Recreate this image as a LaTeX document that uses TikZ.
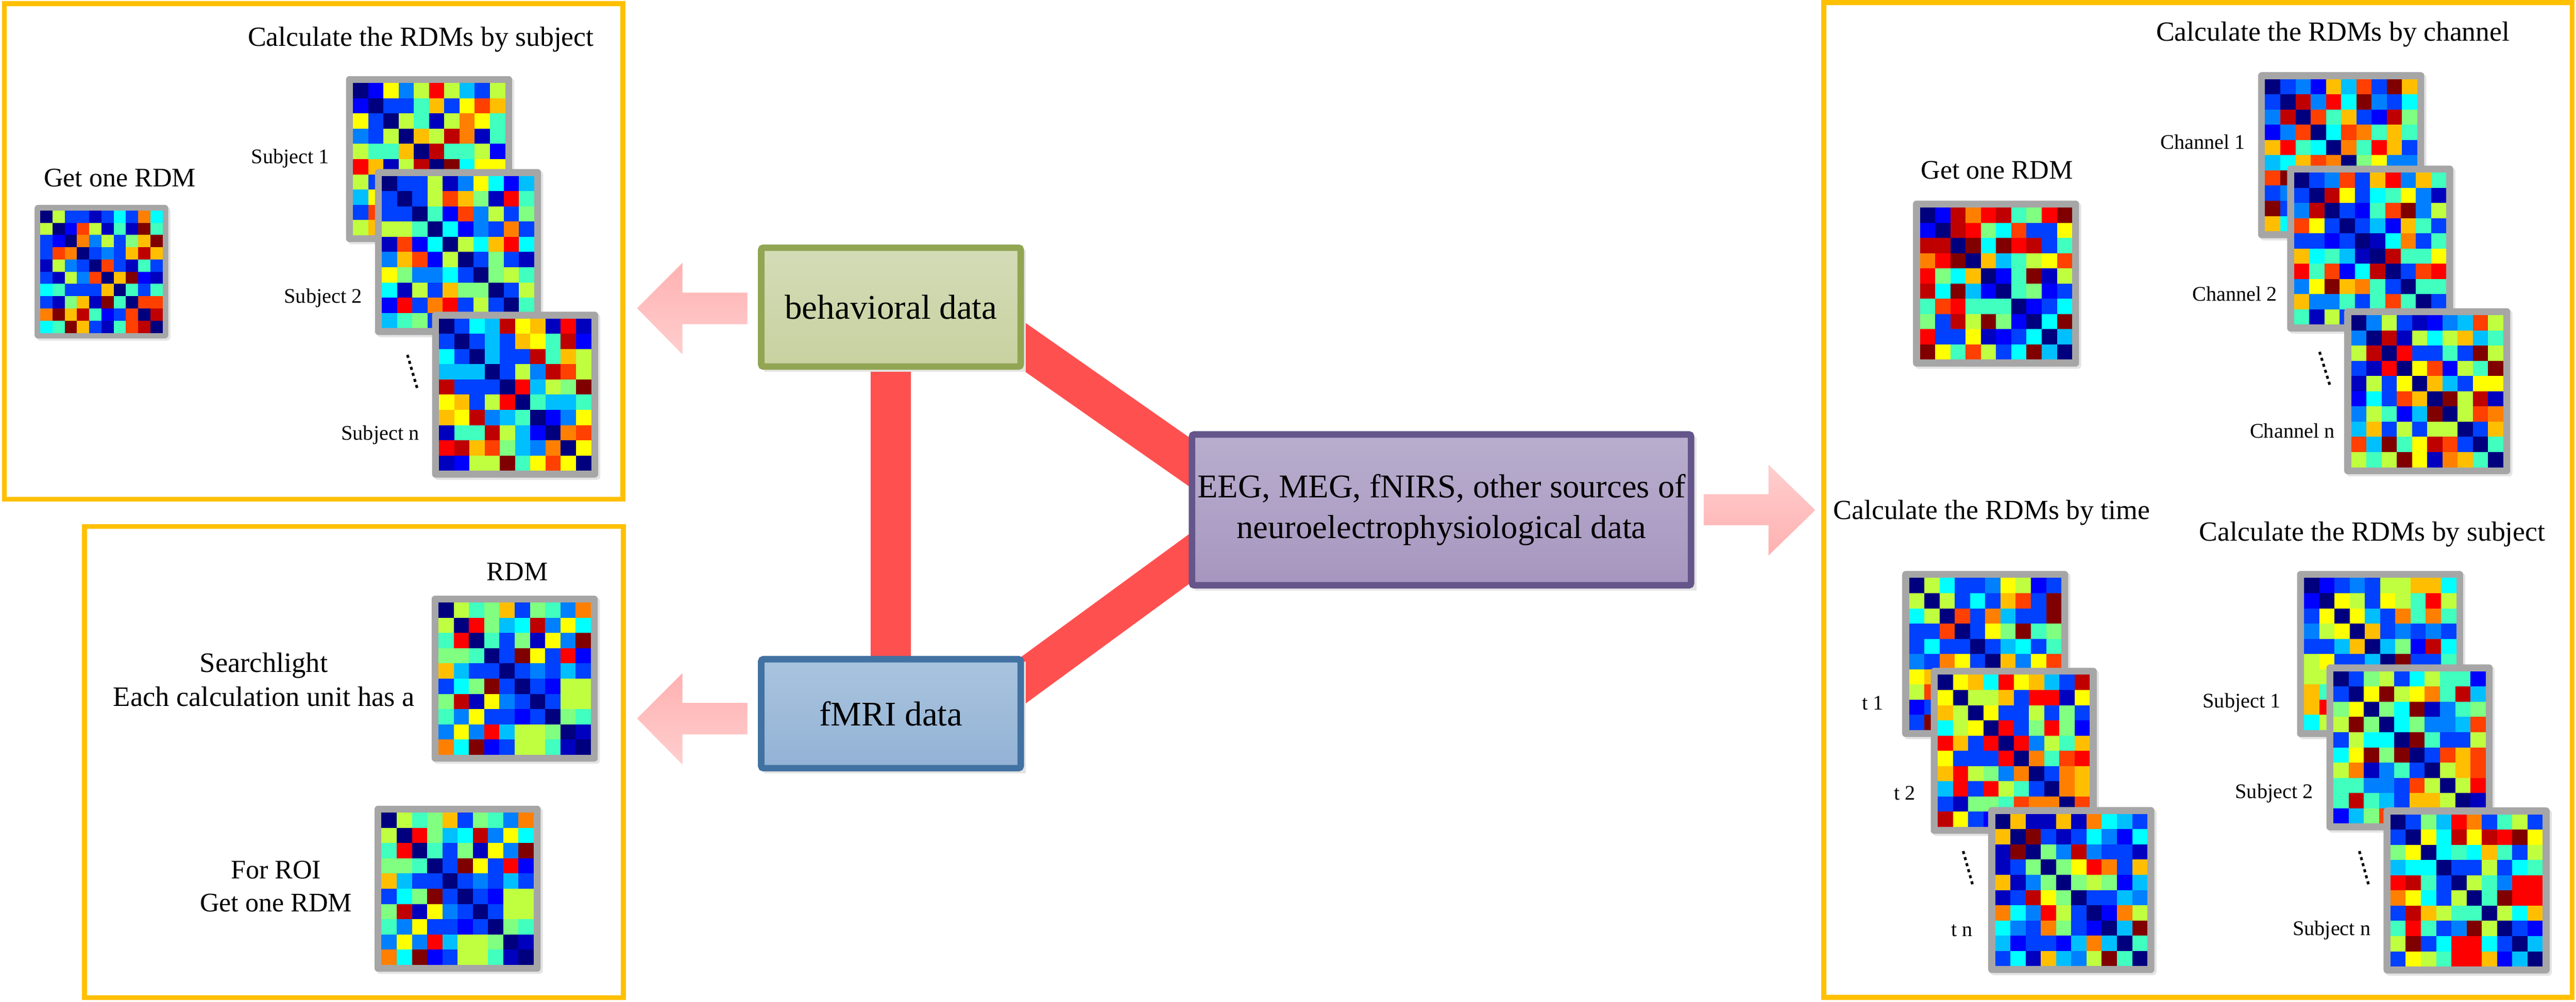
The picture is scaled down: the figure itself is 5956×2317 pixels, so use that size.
\documentclass[tikz,border=0pt]{standalone}
\usepackage{fontspec}
\setmainfont{Liberation Serif}
\usetikzlibrary{calc,backgrounds}

% jet colour map
\definecolor{jet0}{HTML}{00007F}
\definecolor{jet1}{HTML}{0000BF}
\definecolor{jet2}{HTML}{0000FF}
\definecolor{jet3}{HTML}{0040FF}
\definecolor{jet4}{HTML}{0080FF}
\definecolor{jet5}{HTML}{00BFFF}
\definecolor{jet6}{HTML}{00FFFF}
\definecolor{jet7}{HTML}{40FFBF}
\definecolor{jet8}{HTML}{80FF80}
\definecolor{jet9}{HTML}{BFFF40}
\definecolor{jet10}{HTML}{FFFF00}
\definecolor{jet11}{HTML}{FFBF00}
\definecolor{jet12}{HTML}{FF8000}
\definecolor{jet13}{HTML}{FF4000}
\definecolor{jet14}{HTML}{FF0000}
\definecolor{jet15}{HTML}{BF0000}
\definecolor{jet16}{HTML}{800000}

\definecolor{panelY}{HTML}{FFC000}
\definecolor{frameG}{HTML}{A6A6A6}
\definecolor{shadowG}{HTML}{E4E4E4}
\definecolor{bandR}{HTML}{FF5050}
\definecolor{pinkD}{HTML}{FFB1B1}
\definecolor{pinkL}{HTML}{FFCECE}
\definecolor{behB}{HTML}{92A553}
\definecolor{behT}{HTML}{D3DCB7}
\definecolor{behL}{HTML}{C8D19F}
\definecolor{mriB}{HTML}{4272A2}
\definecolor{mriT}{HTML}{A9C4DE}
\definecolor{mriL}{HTML}{93B2D5}
\definecolor{eegB}{HTML}{64558A}
\definecolor{eegT}{HTML}{B9AECE}
\definecolor{eegL}{HTML}{A696BF}

\tikzset{
  panel/.style={draw=panelY, line width=1.15pt},
  rdmframe/.style={fill=frameG, rounded corners=0.8pt, inner sep=0pt, outer sep=0pt},
  rdmshadow/.style={fill=shadowG, rounded corners=0.8pt},
  databox/.style={line width=1.5pt, rounded corners=0.5pt, inner sep=0pt, align=center},
  band/.style={draw=bandR, line width=9.3pt},
  hd/.style={inner sep=0pt, font=\fontsize{6.4}{7.7}\selectfont},
  sub/.style={inner sep=0pt, font=\fontsize{6.2}{7.6}\selectfont, align=center},
  lab/.style={inner sep=0pt, font=\fontsize{4.8}{5.8}\selectfont},
  dotsline/.style={line width=0.6pt, dash pattern=on 0.7pt off 0.75pt},
}

% #1 name, #2 left, #3 top, #4 outer size (px), #5 seed
\newcommand{\rdmmat}[5]{%
  \pgfmathsetseed{#5}%
  \fill[rdmshadow] ({#2+5},{#3+5}) rectangle ++(#4,#4);
  \node[rdmframe, minimum size={#4*0.1pt}, anchor=north west] (#1) at (#2,#3) {};
  \pgfmathsetmacro{\rdmB}{#4/24}%
  \pgfmathsetmacro{\rdmC}{(#4-2*\rdmB)/10}%
  \foreach \i in {0,...,9}{%
    \foreach \j in {\i,...,9}{%
      \ifnum\i=\j\relax
        \fill[jet0] ({#2+\rdmB+\j*\rdmC},{#3+\rdmB+\i*\rdmC}) rectangle ++(\rdmC,\rdmC);
      \else
        \pgfmathrandominteger{\ra}{0}{19}%
        \pgfmathtruncatemacro{\rr}{{1,2,3,3,4,5,6,7,7,8,9,9,10,11,12,13,14,15,16,3}[\ra]}%
        \fill[jet\rr] ({#2+\rdmB+\j*\rdmC},{#3+\rdmB+\i*\rdmC}) rectangle ++(\rdmC,\rdmC);
        \fill[jet\rr] ({#2+\rdmB+\i*\rdmC},{#3+\rdmB+\j*\rdmC}) rectangle ++(\rdmC,\rdmC);
      \fi
    }%
  }%
}

\begin{document}
\begin{tikzpicture}[x=0.1pt, y=-0.1pt]
\useasboundingbox (0,0) rectangle (5956,2317);
\begin{scope}[on background layer]
  \fill[white] (0,0) rectangle (5956,2317);
\end{scope}

% ---------- panels ----------
\draw[panel] (10,8) rectangle (1440,1155);
\draw[panel] (195,1218) rectangle (1441,2308);
\draw[panel] (4217,6) rectangle (5947,2307);

% ---------- central data boxes ----------
\fill[shadowG] (1766,579) rectangle (2372,860);
\node[databox, draw=behB, top color=behT, bottom color=behL,
      minimum width=60pt, minimum height=27.5pt,
      font=\fontsize{8}{9.6}\selectfont] (beh) at (2060,710.5) {behavioral data};
\fill[shadowG] (1766,1531) rectangle (2372,1789);
\node[databox, draw=mriB, top color=mriT, bottom color=mriL,
      minimum width=60pt, minimum height=25.2pt,
      font=\fontsize{8}{9.6}\selectfont] (fmri) at (2060,1651) {fMRI data};
\fill[shadowG] (2762,1011) rectangle (3922,1366);
\node[databox, draw=eegB, top color=eegT, bottom color=eegL,
      minimum width=115.4pt, minimum height=34.9pt,
      font=\fontsize{7.7}{9.5}\selectfont] (eeg) at (3333,1179.5)
      {EEG, MEG, fNIRS, other sources of\\neuroelectrophysiological data};

% ---------- red connectors (behind boxes) ----------
\coordinate (bA) at (2300,754);
\coordinate (eA) at (2800,1104);
\coordinate (mA) at (2300,1622);
\coordinate (eB) at (2800,1256);
\begin{scope}[on background layer]
  \draw[band] (beh.center) -- (fmri.center);
  \draw[band] (bA) -- (eA);
  \draw[band] (mA) -- (eB);
\end{scope}

% ---------- pink block arrows ----------
\shade[top color=pinkD, bottom color=pinkL]
  (1473,713) -- (1578,608) -- (1578,677) -- (1728,677) -- (1728,750)
  -- (1578,750) -- (1578,820) -- cycle;
\shade[top color=pinkD, bottom color=pinkL]
  (1473,1662) -- (1578,1557) -- (1578,1626) -- (1728,1626) -- (1728,1699)
  -- (1578,1699) -- (1578,1769) -- cycle;
\shade[top color=pinkL, bottom color=pinkD]
  (4197,1180) -- (4089,1075) -- (4089,1143) -- (3939,1143) -- (3939,1215)
  -- (4089,1215) -- (4089,1285) -- cycle;

% ---------- left-top panel: behavioural ----------
\node[hd] (t1) at (973,91) {Calculate the RDMs by subject};
\node[sub] (t2) at (277,412) {Get one RDM};
\rdmmat{mA}{80}{474}{309}{11}
\rdmmat{mS1}{800}{176}{384}{21}
\rdmmat{mS2}{867}{391}{384}{22}
\rdmmat{mSn}{999}{721}{384}{23}
\node[lab] (l1) at (671,367) {Subject 1};
\node[lab] (l2) at (747,690) {Subject 2};
\node[lab] (l3) at (879,1006) {Subject n};
\draw[dotsline] (942,821) -- (966,903);

% ---------- left-bottom panel: fMRI ----------
\node[sub] (t3) at (1196,1323) {RDM};
\rdmmat{mR}{998}{1378}{384}{31}
\rdmmat{mROI}{866}{1864}{384}{31}
\node[sub, font=\fontsize{6.5}{7.8}\selectfont] (t4) at (610,1572)
  {Searchlight\\Each calculation unit has a};
\node[sub] (t5) at (638,2051) {For ROI\\Get one RDM};

% ---------- right panel: EEG/MEG ----------
\node[hd] (t6) at (5394,79) {Calculate the RDMs by channel};
\node[sub] (t7) at (4617,394) {Get one RDM};
\rdmmat{mG}{4423}{464}{384}{41}
\rdmmat{mC1}{5221}{167}{384}{42}
\rdmmat{mC2}{5288}{383}{384}{43}
\rdmmat{mCn}{5420}{713}{384}{44}
\node[lab] (l4) at (5093,328) {Channel 1};
\node[lab] (l5) at (5167,680) {Channel 2};
\node[lab] (l6) at (5300,997) {Channel n};
\draw[dotsline] (5363,814) -- (5388,895);

\node[hd] (t8) at (4605,1186) {Calculate the RDMs by time};
\node[hd] (t9) at (5485,1236) {Calculate the RDMs by subject};
\rdmmat{mT1}{4398}{1321}{384}{51}
\rdmmat{mT2}{4464}{1545}{384}{52}
\rdmmat{mTn}{4597}{1867}{384}{53}
\node[lab] (l7) at (4330,1626) {t 1};
\node[lab] (l8) at (4404,1835) {t 2};
\node[lab] (l9) at (4536,2153) {t n};
\draw[dotsline] (4539,1969) -- (4562,2051);

\rdmmat{mU1}{5311}{1321}{384}{61}
\rdmmat{mU2}{5379}{1537}{384}{62}
\rdmmat{mUn}{5511}{1868}{384}{63}
\node[lab] (l10) at (5183,1626) {Subject 1};
\node[lab] (l11) at (5258,1835) {Subject 2};
\node[lab] (l12) at (5391,2152) {Subject n};
\draw[dotsline] (5455,1969) -- (5477,2049);
\end{tikzpicture}
\end{document}
